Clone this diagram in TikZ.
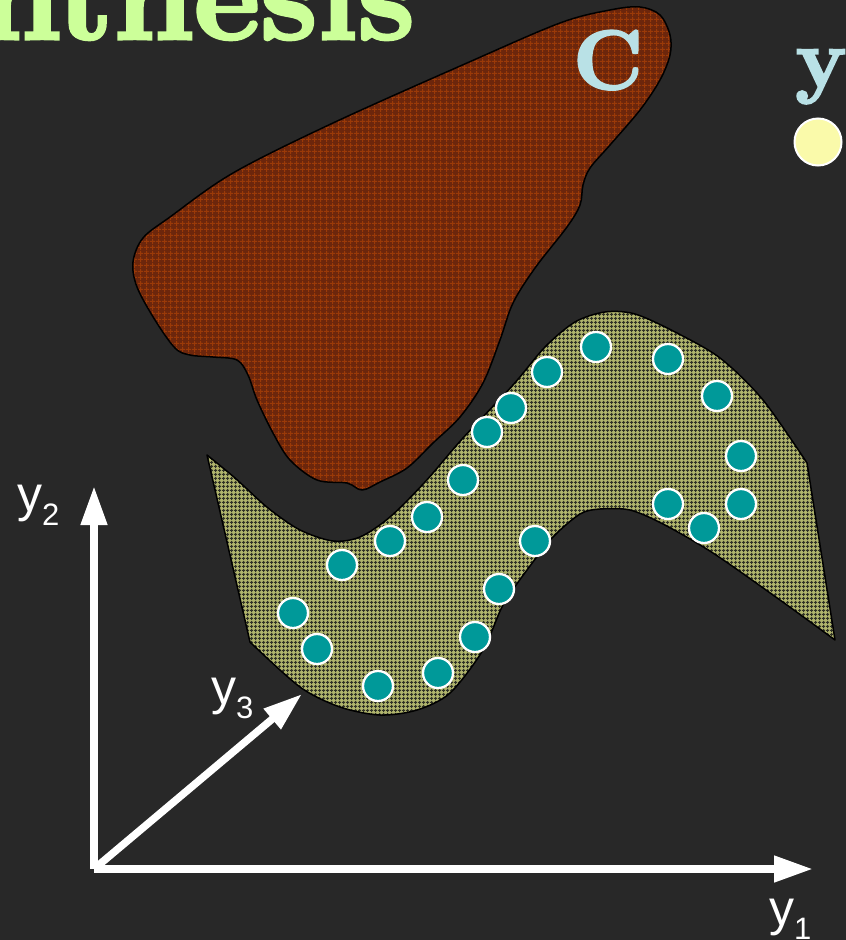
\documentclass[tikz,border=0pt]{standalone}
\usepackage{fontspec}
\newfontfamily\axisfont{Liberation Sans}
\newfontfamily\headfont{lmroman10-bold.otf}[FakeBold=2.5]
\usetikzlibrary{arrows.meta,patterns.meta}
\definecolor{slide}{RGB}{40,40,40}
\definecolor{titlegreen}{RGB}{204,255,153}
\definecolor{labelblue}{RGB}{185,225,230}
\definecolor{rust}{RGB}{108,38,12}
\definecolor{rustgrid}{RGB}{155,58,8}
\definecolor{khaki}{RGB}{175,180,108}
\definecolor{khakigrid}{RGB}{48,50,38}
\definecolor{sampleteal}{RGB}{0,153,153}
\definecolor{pointyellow}{RGB}{250,250,170}

\tikzdeclarepattern{
  name=finemesh,
  type=uncolored,
  bounding box={(0pt,0pt) and (3.5pt,3.5pt)},
  tile size={(3.5pt,3.5pt)},
  code={
    \pgfsetlinewidth{1.1pt}
    \pgfpathmoveto{\pgfpoint{0pt}{1.75pt}}\pgfpathlineto{\pgfpoint{3.5pt}{1.75pt}}
    \pgfpathmoveto{\pgfpoint{1.75pt}{0pt}}\pgfpathlineto{\pgfpoint{1.75pt}{3.5pt}}
    \pgfusepath{stroke}
  }
}
\tikzdeclarepattern{
  name=coarsemesh,
  type=uncolored,
  bounding box={(0pt,0pt) and (6pt,6pt)},
  tile size={(6pt,6pt)},
  code={
    \pgfsetlinewidth{1pt}
    \pgfpathmoveto{\pgfpoint{0pt}{3pt}}\pgfpathlineto{\pgfpoint{6pt}{3pt}}
    \pgfpathmoveto{\pgfpoint{3pt}{0pt}}\pgfpathlineto{\pgfpoint{3pt}{6pt}}
    \pgfusepath{stroke}
  }
}

\tikzset{
  region/.style n args={3}{preaction={fill=#1}, preaction={pattern=#2, pattern color=#3},
    draw=black, line width=1.5pt, line join=round},
  sample/.style={circle, draw=white, line width=2.3pt, fill=sampleteal, minimum size=30pt, inner sep=0pt},
  axis/.style={white, line width=7.5pt, -{Triangle[length=39pt,width=25pt]}},
  axislabel/.style={white, anchor=base west, inner sep=0pt, font=\axisfont\fontsize{50}{50}\selectfont},
}
\newcommand{\idx}[1]{\raisebox{-14pt}{\fontsize{31}{31}\selectfont #1}}

\begin{document}
\begin{tikzpicture}[x=1pt, y=-1pt]
  \fill[slide] (0,0) rectangle (846,940);
  \clip (0,0) rectangle (846,940);
  \node[anchor=base east, inner sep=0pt, text=titlegreen, font=\headfont\fontsize{126}{140}\selectfont] (title) at (415,39) {nthesis};

  % constraint set C
  \path[region={rust}{coarsemesh}{rustgrid}] plot[smooth cycle, tension=0.55] coordinates {
    (560,23) (610,10) (640,7) (660,15) (670,35) (670,55) (660,80) (640,110) (610,145)
    (590,168) (583,185) (580,205) (567,227) (535,268) (513,303) (500,340) (483,383)
    (460,417) (433,443) (407,468) (380,482) (362,490) (347,483) (317,480) (290,460)
    (273,433) (257,400) (248,375) (237,360) (213,357) (190,355) (175,348) (155,320)
    (137,287) (133,262) (143,238) (170,217) (233,173) (333,123) (467,63)};
  \node[anchor=base, inner sep=0pt, text=labelblue, font=\headfont\fontsize{84}{90}\selectfont] (setC) at (608,89) {C};

  % output manifold
  \path[region={khaki}{finemesh}{khakigrid}]
    plot[smooth] coordinates {(207,455) (235,478) (268,508) (300,530) (333,541) (360,537)
      (390,517) (425,482) (463,438) (513,385) (545,347) (575,322) (605,312) (635,314)
      (675,332) (720,358) (763,400) (807,463)}
    -- (835,640)
    -- plot[smooth] coordinates {(835,640) (780,600) (713,553) (663,524) (630,510) (600,509)
      (580,514) (553,537) (527,570) (503,605) (483,650) (450,693) (417,710) (380,715)
      (340,707) (300,687) (250,642)}
    -- cycle;
  \foreach \px/\py [count=\i] in {596/347, 668/359, 717/396, 741/456, 741/504, 704/528,
      668/504, 547/372, 511/408, 487/432, 463/480, 427/517, 390/541, 342/565, 293/613,
      317/649, 378/686, 438/673, 475/637, 499/589, 535/541}
    \node[sample] (s\i) at (\px,\py) {};

  % legend
  \node[anchor=base, inner sep=0pt, text=labelblue, font=\headfont\fontsize{84}{90}\selectfont] (ylegend) at (821,87) {y};
  \node[circle, draw=white, line width=2pt, fill=pointyellow, minimum size=47pt, inner sep=0pt] (ypoint) at (818,142) {};

  % axes
  \coordinate (origin) at (94,869);
  \coordinate (y1tip) at (813,869);
  \coordinate (y2tip) at (94,486);
  \coordinate (y3tip) at (302,694);
  \draw[axis] (origin) -- (y2tip);
  \draw[axis] (origin) -- (y1tip);
  \draw[axis] (origin) -- (y3tip);
  \node[axislabel] (y1label) at (769,925) {y\idx{1}};
  \node[axislabel] (y2label) at (17,511) {y\idx{2}};
  \node[axislabel] (y3label) at (211,704) {y\idx{3}};
\end{tikzpicture}
\end{document}
